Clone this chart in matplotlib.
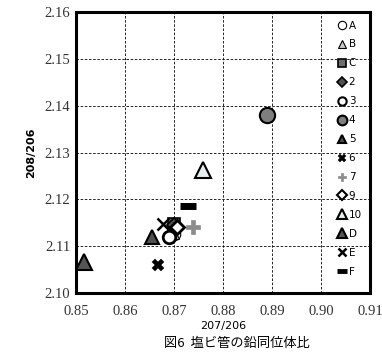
import numpy as np
import matplotlib.pyplot as plt

plt.rcParams['font.family'] = ['Liberation Serif', 'DejaVu Serif']

# 鉛同位体比 (207/206, 208/206)
labels = ['A', 'B', 'C', '2', '3', '4', '5', '6', '7', '9', '10', 'D', 'E', 'F']
x207 = [0.8700, 0.8695, 0.8700, 0.8700, 0.8690, 0.8890, 0.8656, 0.8668, 0.8738, 0.8706, 0.8760, 0.8517, 0.8678, 0.8728]
y208 = [2.1125, 2.1130, 2.1148, 2.1145, 2.1120, 2.1380, 2.1120, 2.1060, 2.1140, 2.1140, 2.1262, 2.1065, 2.1147, 2.1185]

# マーカー設定
estilos = {
    'A': dict(marker='o', mfc='white', mec='black', mew=0.8, ms=9),
    'B': dict(marker='^', mfc='#c8c8c8', mec='black', mew=0.8, ms=10),
    'C': dict(marker='s', mfc='#6e6e6e', mec='black', mew=1.2, ms=9),
    '2': dict(marker='D', mfc='#505050', mec='black', mew=1.2, ms=7),
    '3': dict(marker='o', mfc='white', mec='black', mew=2.0, ms=9),
    '4': dict(marker='o', mfc='#7f7f7f', mec='black', mew=1.5, ms=11),
    '5': dict(marker='^', mfc='#505050', mec='black', mew=1.5, ms=10),
    '6': dict(marker='X', mfc='black', mec='black', mew=0.3, ms=8),
    '7': dict(marker='P', mfc='#8c8c8c', mec='#8c8c8c', mew=0.5, ms=10),
    '9': dict(marker='D', mfc='white', mec='black', mew=2.0, ms=7),
    '10': dict(marker='^', mfc='#e8eeee', mec='black', mew=1.5, ms=12),
    'D': dict(marker='^', mfc='#555555', mec='black', mew=1.5, ms=12),
    'E': dict(marker='x', mfc='black', mec='black', mew=1.8, ms=9),
    'F': dict(marker='_', mfc='black', mec='black', mew=5, ms=12),
}

# 凡例のマーカーサイズ
leg_ms = {'A': 6, 'B': 6, 'C': 6, '2': 5, '3': 6, '4': 7, '5': 6, '6': 6,
          '7': 6, '9': 5, '10': 7, 'D': 7, 'E': 6, 'F': 7}

fig = plt.figure(figsize=(3.82, 3.58), dpi=100)
ax = fig.add_axes([0.199, 0.182, 0.770, 0.784])

for lab, xv, yv in zip(labels, x207, y208):
    ax.plot(xv, yv, linestyle='none', label=lab, **estilos[lab])

xt = np.arange(0.85, 0.9101, 0.01)
yt = np.arange(2.10, 2.1601, 0.01)
ax.set_xlim(0.85, 0.91)
ax.set_ylim(2.10, 2.16)
ax.set_xticks(xt)
ax.set_yticks(yt)
ax.set_xticklabels(['%.2f' % v for v in xt])
ax.set_yticklabels(['%.2f' % v for v in yt])
ax.tick_params(length=0, labelsize=10.5, pad=9, labelcolor='#333333')
ax.tick_params(axis='y', pad=4)
ax.grid(True, color='black', linestyle=(0, (3, 2)), linewidth=0.6)
for s in ax.spines.values():
    s.set_linewidth(2.2)

ax.set_xlabel('207/206', family=['DejaVu Sans'], fontsize=8, labelpad=2)
ax.set_ylabel('208/206', family=['DejaVu Sans'], fontsize=8, fontweight='bold', labelpad=6)

leg = ax.legend(loc='upper right', frameon=False, fontsize=7.5,
                handlelength=0.8, handletextpad=0.2, labelspacing=0.86,
                borderaxespad=0.4, prop={'family': 'DejaVu Sans', 'size': 7.5})
for h, lab in zip(leg.legend_handles, labels):
    h.set_markersize(leg_ms[lab])
    if lab in ('3', '9'):
        h.set_markeredgewidth(1.5)
    if lab == 'F':
        h.set_markeredgewidth(3.5)

fig.text(0.62, 0.022, '図6  塩ビ管の鉛同位体比', ha='center', va='bottom',
         family=['Noto Sans CJK JP', 'DejaVu Sans'], fontsize=9.5)

plt.savefig('out.png', dpi=100)
